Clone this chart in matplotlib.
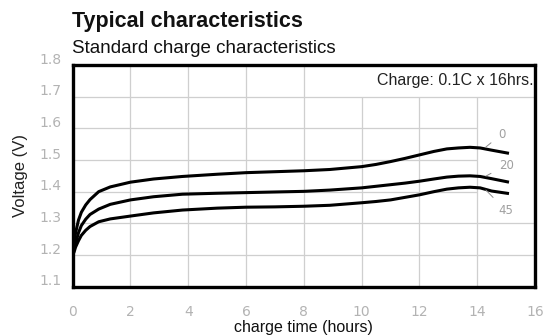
import matplotlib
matplotlib.use("Agg")
import matplotlib.pyplot as plt
from matplotlib import font_manager
from matplotlib.transforms import ScaledTranslation

# charge time (hours) and cell voltage (V) for each temperature
hours = [0, 0.05, 0.1, 0.2, 0.3, 0.45, 0.6, 0.9, 1.3, 2.0, 2.8, 3.8,
         5, 6, 7, 8, 8.9, 10, 10.5, 11, 11.5, 12, 12.5, 12.95, 13.35, 13.75, 14.1, 14.5, 15.1]
volt_0c = [1.20, 1.24, 1.27, 1.31, 1.335, 1.358, 1.375, 1.40, 1.415, 1.43, 1.44, 1.448,
           1.455, 1.46, 1.463, 1.466, 1.470, 1.479, 1.486, 1.495, 1.505, 1.516, 1.527, 1.535,
           1.538, 1.540, 1.538, 1.531, 1.521]
volt_20c = [1.20, 1.22, 1.237, 1.27, 1.293, 1.313, 1.328, 1.345, 1.36, 1.374, 1.384, 1.392,
            1.395, 1.397, 1.399, 1.401, 1.405, 1.412, 1.417, 1.422, 1.427, 1.433, 1.440, 1.446,
            1.449, 1.450, 1.448, 1.441, 1.430]
volt_45c = [1.20, 1.21, 1.225, 1.245, 1.262, 1.278, 1.29, 1.305, 1.314, 1.323, 1.333, 1.342,
            1.348, 1.351, 1.352, 1.354, 1.357, 1.365, 1.369, 1.374, 1.382, 1.390, 1.400, 1.408,
            1.412, 1.414, 1.412, 1.402, 1.394]

curve_labels = ["0", "20", "45"]
label_anchor = [(14.3, 1.541), (14.3, 1.449), (14.3, 1.405)]
label_text_pos = [(14.85, 1.582), (15.0, 1.484), (15.0, 1.340)]

x_ticks = [0, 2, 4, 6, 8, 10, 12, 14, 16]
y_ticks = [1.1, 1.2, 1.3, 1.4, 1.5, 1.6, 1.7, 1.8]

available = {f.name for f in font_manager.fontManager.ttflist}
narrow = "Liberation Sans Narrow" if "Liberation Sans Narrow" in available else "Liberation Sans"

fig = plt.figure(figsize=(5.57, 3.36), dpi=100)
ax = fig.add_axes([0.1305, 0.1467, 0.830, 0.660])

# grid, partly cut away behind the note and the curve labels
grid_col = "#cfcfcf"
for x in x_ticks[1:-1]:
    ax.vlines(x, 1.1, 1.8 if x <= 8 else 1.7, color=grid_col, lw=0.9, zorder=1)
for y in y_ticks[1:-1]:
    ax.hlines(y, 0, 14 if y in (1.4, 1.5, 1.6) else 16, color=grid_col, lw=0.9, zorder=1)

for v in (volt_0c, volt_20c, volt_45c):
    ax.plot(hours, v, color="black", lw=2.2, solid_capstyle="butt", zorder=3)

for lab, anchor, pos in zip(curve_labels, label_anchor, label_text_pos):
    ax.annotate(lab, xy=anchor, xytext=pos, ha="center", va="center",
                fontsize=8.5, color="#a0a0a0",
                arrowprops=dict(arrowstyle="-", color="#8c8c8c", lw=0.7,
                                shrinkA=4, shrinkB=0))

ax.set_xlim(0, 16)
ax.set_ylim(1.1, 1.8)
ax.set_xticks(x_ticks)
ax.set_yticks(y_ticks)
ax.set_yticklabels([f"{y:.1f}" for y in y_ticks])
ax.tick_params(length=0, labelsize=10, labelcolor="#b3b3b3")
ax.tick_params(axis="x", pad=13)
ax.tick_params(axis="y", pad=8)
for lbl in ax.get_yticklabels():
    lbl.set_transform(lbl.get_transform() + ScaledTranslation(0, 5 / 72, fig.dpi_scale_trans))

for s in ax.spines.values():
    s.set_linewidth(2.4)
    s.set_color("black")

ax.text(15.95, 1.75, "Charge: 0.1C x 16hrs.", ha="right", va="center",
        fontsize=11.5, family=narrow, color="#222222")

ax.set_xlabel("charge time (hours)", fontsize=11.5, family=narrow, color="#111111", labelpad=1)
ax.set_ylabel("Voltage (V)", fontsize=12, family=narrow, color="#222222", labelpad=8)

fig.text(0.1287, 0.9205, "Typical characteristics", fontsize=15.5, fontweight="bold",
         family=narrow, color="#111111", va="baseline")
fig.text(0.1287, 0.8414, "Standard charge characteristics", fontsize=13.5,
         family=narrow, color="#111111", va="baseline")

fig.savefig("out.png", dpi=100)
